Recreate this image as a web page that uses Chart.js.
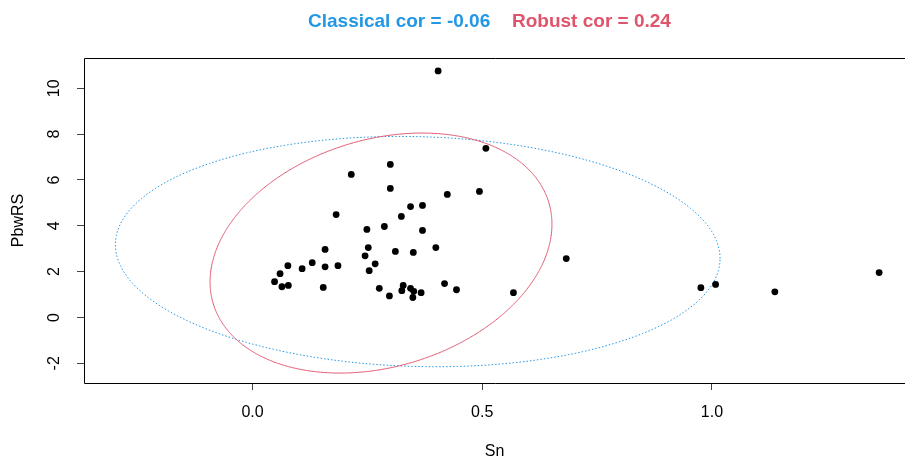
<!DOCTYPE html>
<html>
<head>
<meta charset="utf-8">
<script src="https://cdn.jsdelivr.net/npm/chart.js@4.4.1/dist/chart.umd.min.js"></script>
<style>
  html, body { margin: 0; padding: 0; background: #fff; overflow: hidden; }
  #wrap { position: relative; width: 905px; height: 463px; }
  .judul { position: absolute; top: 11px; font: bold 19px "Liberation Sans", Arial, sans-serif; line-height: 19px; white-space: nowrap; }
  #judulKlasik { left: 308px; color: #2297E6; }
  #judulRobust { left: 512px; color: #DF536B; }
</style>
</head>
<body>
<div id="wrap">
  <canvas id="plot" width="905" height="463"></canvas>
  <div class="judul" id="judulKlasik">Classical cor = -0.06</div>
  <div class="judul" id="judulRobust">Robust cor = 0.24</div>
</div>
<script>
// data titik (Sn, PbwRS)
const snNilai = [
  0.404, 0.508, 0.300, 0.215, 0.300, 0.424, 0.494, 0.182, 0.344, 0.370,
  0.324, 0.249, 0.287, 0.370, 0.158, 0.252, 0.311, 0.350, 0.399, 0.245,
  0.267, 0.254, 0.077, 0.108, 0.130, 0.158, 0.186, 0.060, 0.048, 0.064,
  0.078, 0.154, 0.276, 0.298, 0.328, 0.325, 0.344, 0.351, 0.349, 0.367,
  0.418, 0.444, 0.568, 0.683, 0.976, 1.008, 1.137, 1.364
];
const pbwrsNilai = [
  10.76, 7.38, 6.68, 6.24, 5.63, 5.37, 5.50, 4.49, 4.84, 4.89,
  4.41, 3.84, 3.97, 3.80, 2.97, 3.05, 2.88, 2.84, 3.05, 2.69,
  2.34, 2.04, 2.26, 2.13, 2.39, 2.21, 2.26, 1.91, 1.56, 1.34,
  1.40, 1.31, 1.27, 0.94, 1.40, 1.17, 1.27, 1.14, 0.87, 1.08,
  1.48, 1.21, 1.08, 2.57, 1.30, 1.44, 1.12, 1.96
];

// tick sumbu
const xTickNilai = [0, 0.5, 1.0];
const xTickLabel = ["0.0", "0.5", "1.0"];
const yTickNilai = [-2, 0, 2, 4, 6, 8, 10];

// parameter elips toleransi 97.5% (pusat, simpangan baku, korelasi)
const klasikPusat = [0.3596, 2.875];
const klasikSd = [0.2423, 1.850];
const klasikKor = -0.06;
const robustPusat = [0.2797, 2.810];
const robustSd = [0.1370, 1.928];
const robustKor = 0.24;
const chiKuantil = 7.3778; // qchisq(0.975, 2)

function elips(pusat, sd, r) {
    const k = Math.sqrt(chiKuantil);
    const hasil = [];
    for (let i = 0; i <= 240; i++) {
        const t = (2 * Math.PI * i) / 240;
        hasil.push({
            x: pusat[0] + k * sd[0] * Math.cos(t),
            y: pusat[1] + k * sd[1] * (r * Math.cos(t) + Math.sqrt(1 - r * r) * Math.sin(t)),
        });
    }
    return hasil;
}

const FONT = "'Liberation Sans', Arial, sans-serif";

// kotak plot + label sumbu y yang diputar (gaya R)
const kotakPlugin = {
    id: "kotak",
    afterDraw(chart) {
        const { ctx, chartArea: a } = chart;
        ctx.save();
        ctx.strokeStyle = "#000";
        ctx.lineWidth = 1;
        ctx.beginPath();
        ctx.moveTo(a.right + 2, Math.round(a.top) + 0.5);
        ctx.lineTo(Math.round(a.left) + 0.5, Math.round(a.top) + 0.5);
        ctx.lineTo(Math.round(a.left) + 0.5, Math.round(a.bottom) + 0.5);
        ctx.lineTo(a.right + 2, Math.round(a.bottom) + 0.5);
        ctx.stroke();

        const y = chart.scales.y;
        ctx.fillStyle = "#000";
        ctx.font = "16px " + FONT;
        ctx.textAlign = "center";
        ctx.textBaseline = "middle";
        for (const v of yTickNilai) {
            ctx.save();
            ctx.translate(55, y.getPixelForValue(v));
            ctx.rotate(-Math.PI / 2);
            ctx.fillText(String(v), 0, 0);
            ctx.restore();
        }
        ctx.restore();
    },
};

new Chart(document.getElementById("plot"), {
    type: "scatter",
    data: {
        datasets: [
            {
                label: "titik",
                data: snNilai.map((x, i) => ({ x, y: pbwrsNilai[i] })),
                backgroundColor: "#000",
                borderColor: "#000",
                pointRadius: 3.4,
                pointBorderWidth: 0,
            },
            {
                // tension kecil supaya Chart.js tidak pakai fast path (garis tegak di tepi elips)
                label: "robust",
                data: elips(robustPusat, robustSd, robustKor),
                showLine: true,
                pointRadius: 0,
                borderColor: "#DF536B",
                borderWidth: 1,
                tension: 0.01,
            },
            {
                label: "klasik",
                data: elips(klasikPusat, klasikSd, klasikKor),
                showLine: true,
                pointRadius: 0,
                borderColor: "#2297E6",
                borderWidth: 1,
                borderDash: [1.5, 2],
                tension: 0,
            },
        ],
    },
    options: {
        responsive: false,
        animation: false,
        layout: { autoPadding: false, padding: { top: 58, right: 0, bottom: 0, left: 0 } },
        plugins: { legend: { display: false }, tooltip: { enabled: false }, title: { display: false } },
        scales: {
            x: {
                type: "linear",
                min: -0.3668,
                max: 1.4203,
                afterBuildTicks: (s) => { s.ticks = xTickNilai.map((v) => ({ value: v })); },
                afterFit: (s) => { s.height = 80; },
                ticks: {
                    callback: (v) => xTickLabel[xTickNilai.indexOf(v)],
                    font: { size: 16, family: FONT },
                    color: "#000",
                    padding: 13,
                    maxRotation: 0,
                },
                grid: { display: true, drawOnChartArea: false, drawTicks: true, tickLength: 7, color: "#444" },
                border: { display: false },
                title: { display: true, text: "Sn", color: "#000", font: { size: 16, family: FONT }, padding: { top: 0, bottom: 2 } },
            },
            y: {
                type: "linear",
                min: -2.86,
                max: 11.322,
                afterBuildTicks: (s) => { s.ticks = yTickNilai.map((v) => ({ value: v })); },
                afterFit: (s) => { s.width = 84; },
                ticks: { display: false },
                grid: { display: true, drawOnChartArea: false, drawTicks: true, tickLength: 7, color: "#444" },
                border: { display: false },
                title: { display: true, text: "PbwRS", color: "#000", font: { size: 16, family: FONT }, padding: { top: 9, bottom: 0 } },
            },
        },
    },
    plugins: [kotakPlugin],
});
</script>
</body>
</html>
